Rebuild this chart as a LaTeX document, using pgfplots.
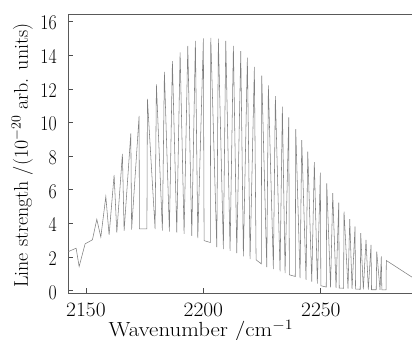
\RequirePackage{fix-cm}
\documentclass[border=0pt]{standalone}
\usepackage{fontspec}
\usepackage{pgfplots}
\pgfplotsset{compat=1.18}
\begin{document}
\begin{tikzpicture}
\useasboundingbox (-68.3bp,-46.7bp) rectangle (343.7bp,293.3bp);
\begin{axis}[
  at={(0,0)}, anchor=south west,
  scale only axis,
  width=343.7bp, height=279.3bp,
  xmin=2142.5, xmax=2288.8,
  ymin=-0.15, ymax=16.45,
  axis x line*=box, axis y line*=left,
  xtick={2150,2200,2250},
  ytick={0,2,...,16},
  xtick pos=bottom, ytick pos=left,
  tick align=inside,
  major tick length=5bp,
  axis line style={black!65, line width=0.8pt},
  every tick/.style={black!70, line width=0.7pt},
  /pgf/number format/1000 sep={},
  /pgf/number format/assume math mode=true,
  xticklabel={\scalebox{1.05}[1]{\pgfmathprintnumber{\tick}}},
  yticklabel={\scalebox{0.85}[1]{\pgfmathprintnumber{\tick}}},
  xticklabel shift=8.5bp,
  xticklabel style={font=\fontsize{20.5}{24}\selectfont, inner sep=1bp},
  yticklabel style={font=\fontsize{21}{24}\selectfont, anchor=east, xshift=-8bp, yshift=-1.5bp},
  xlabel={\scalebox{1.12}[1]{Wavenumber /cm$^{-1}$}},
  ylabel={Line strength /(10$^{-20}$ arb. units)},
  xlabel style={font=\fontsize{20.5}{24}\selectfont, inner sep=0.5bp, at={(axis description cs:0.386,0)}, anchor=base, yshift=-43.5bp},
  ylabel style={font=\fontsize{20}{24}\selectfont, at={(axis description cs:-0.134,0.493)}, anchor=center},
  clip=true,
]
\addplot[black!50, line width=0.55pt] table {
2142.55 2.33
2145.83 2.53
2147.11 1.44
2149.66 2.79
2152.77 3.03
2154.64 4.25
2156.34 3.19
2158.47 5.60
2159.87 3.32
2162.00 6.88
2163.15 3.46
2165.53 8.13
2166.26 3.56
2169.11 9.36
2169.45 3.64
2172.64 10.40
2172.77 3.68
2175.96 3.68
2176.17 11.40
2179.45 3.66
2180.00 12.27
2182.55 3.58
2183.40 13.01
2185.53 3.52
2186.81 13.65
2188.68 3.46
2190.09 14.17
2191.79 3.38
2193.36 14.56
2195.06 3.26
2196.60 14.85
2197.62 3.13
2200.00 15.00
2200.30 2.98
2202.94 2.87
2203.15 15.03
2205.70 2.59
2206.38 14.98
2208.51 2.47
2209.53 14.85
2211.36 2.37
2212.77 14.56
2214.21 2.24
2215.91 14.24
2217.02 2.04
2218.72 13.85
2219.87 1.88
2221.70 13.31
2222.43 1.84
2224.64 1.60
2224.85 12.78
2226.98 1.41
2227.66 12.21
2229.79 1.29
2230.64 11.57
2232.64 1.15
2233.62 10.94
2234.77 1.05
2236.34 10.31
2236.60 0.95
2239.11 0.85
2239.32 9.60
2241.15 0.75
2241.87 8.96
2243.70 0.65
2244.43 8.27
2246.13 0.55
2247.23 7.64
2248.51 0.42
2249.79 7.02
2250.00 0.30
2252.30 0.22
2252.51 6.39
2254.13 0.20
2255.06 5.80
2256.47 0.17
2257.62 5.24
2257.83 0.16
2259.66 0.15
2259.87 4.71
2261.57 0.13
2262.30 4.26
2263.28 0.11
2264.55 3.82
2264.77 0.10
2266.77 0.09
2266.98 3.42
2268.09 0.08
2269.23 3.03
2270.21 0.07
2271.36 2.73
2271.57 0.06
2273.57 0.06
2273.79 2.33
2275.19 0.05
2275.74 2.04
2275.96 0.05
2277.74 0.05
2277.87 1.80
2288.81 0.81
};
\end{axis}
\end{tikzpicture}
\end{document}
